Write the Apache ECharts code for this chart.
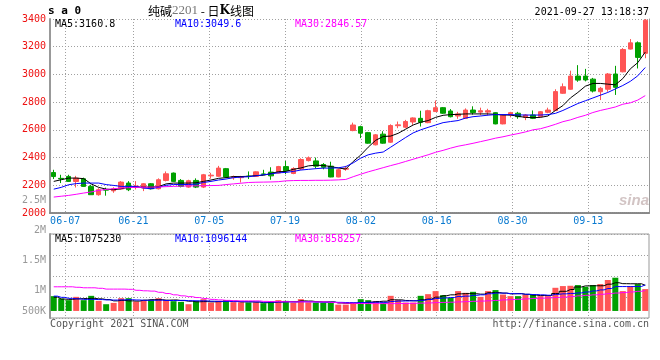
<!DOCTYPE html>
<html><head><meta charset="utf-8">
<script src="https://cdn.jsdelivr.net/npm/echarts@6/dist/echarts.min.js"></script>
<style>html,body{margin:0;padding:0;background:#fff}#c{width:660px;height:360px}</style>
</head><body><div id="c"></div>
<script>
// ---------------- data ----------------
const dates = ['06-03','06-04','06-07','06-08','06-09','06-10','06-11','06-15','06-16','06-17',
'06-18','06-21','06-22','06-23','06-24','06-25','06-28','06-29','06-30','07-01',
'07-02','07-05','07-06','07-07','07-08','07-09','07-12','07-13','07-14','07-15',
'07-16','07-19','07-20','07-21','07-22','07-23','07-26','07-27','07-28','07-29',
'07-30','08-02','08-03','08-04','08-05','08-06','08-09','08-10','08-11','08-12',
'08-13','08-16','08-17','08-18','08-19','08-20','08-23','08-24','08-25','08-26',
'08-27','08-30','08-31','09-01','09-02','09-03','09-06','09-07','09-08','09-09',
'09-10','09-13','09-14','09-15','09-16','09-17','09-22','09-23','09-24','09-27'];
const labeledDates = ['06-07','06-21','07-05','07-19','08-02','08-16','08-30','09-13'];

const openP = [2292,2250,2264,2227,2247,2192,2132,2170,2160,2173,
2216,2190,2180,2211,2175,2235,2288,2235,2187,2235,
2187,2268,2265,2320,2255,2255,2266,2264,2282,2295,
2288,2335,2285,2318,2378,2376,2350,2338,2260,2316,
2595,2623,2580,2492,2569,2511,2630,2619,2657,2683,
2652,2732,2760,2736,2700,2683,2743,2728,2728,2724,
2643,2707,2720,2690,2707,2695,2727,2739,2864,2893,
2988,2988,2966,2875,2893,3003,3019,3183,3228,3152];
const closeP = [2263,2246,2228,2252,2192,2132,2168,2165,2175,2223,
2168,2195,2211,2175,2240,2283,2228,2192,2233,2187,
2276,2273,2324,2260,2262,2262,2263,2297,2279,2268,
2335,2305,2321,2386,2398,2338,2330,2260,2312,2322,
2635,2576,2504,2564,2504,2631,2636,2660,2686,2655,
2738,2760,2720,2695,2715,2743,2725,2738,2738,2643,
2706,2724,2695,2707,2683,2731,2743,2876,2911,2988,
2959,2960,2880,2900,3003,2907,3180,3228,3123,3391];
const lowP = [2245,2216,2225,2184,2190,2130,2125,2125,2146,2170,
2158,2170,2158,2170,2170,2228,2225,2185,2182,2180,
2180,2248,2262,2255,2240,2220,2245,2260,2276,2240,
2285,2280,2280,2310,2372,2320,2315,2258,2258,2305,
2590,2540,2500,2488,2500,2505,2612,2612,2636,2624,
2648,2730,2715,2690,2680,2680,2710,2705,2705,2640,
2640,2690,2680,2670,2678,2690,2720,2736,2860,2890,
2947,2950,2870,2815,2875,2852,3015,3180,3043,3117];
const highP = [2312,2276,2276,2268,2255,2204,2179,2183,2186,2230,
2230,2230,2216,2216,2250,2300,2292,2245,2240,2250,
2282,2290,2340,2325,2270,2268,2300,2300,2312,2330,
2340,2375,2330,2395,2408,2400,2360,2370,2320,2340,
2652,2630,2585,2570,2590,2640,2660,2672,2690,2738,
2745,2812,2765,2750,2730,2755,2770,2760,2752,2728,
2712,2730,2730,2714,2740,2736,2760,2893,2935,3027,
3067,3040,2975,2910,3010,3062,3190,3255,3238,3400];

const ma5 = [2228,2240,2252,2252,2248,2210,2185,2172,2168,2175,
2185,2187,2187,2187,2190,2210,2216,2216,2216,2218,
2228,2238,2250,2255,2263,2263,2265,2270,2272,2285,
2298,2300,2315,2325,2340,2345,2343,2335,2325,2317,
2372,2418,2475,2525,2552,2555,2575,2605,2635,2655,
2667,2690,2705,2710,2712,2715,2715,2715,2715,2712,
2707,2707,2698,2690,2688,2690,2700,2740,2775,2830,
2870,2915,2935,2935,2930,2925,2970,3040,3085,3161];
const ma10 = [2172,2185,2204,2212,2216,2216,2216,2205,2199,2192,
2192,2192,2180,2175,2185,2200,2206,2206,2206,2208,
2220,2228,2238,2245,2255,2259,2262,2268,2276,2282,
2290,2293,2300,2310,2315,2320,2324,2324,2326,2335,
2362,2396,2420,2432,2440,2475,2510,2545,2578,2600,
2618,2635,2652,2660,2667,2685,2695,2700,2706,2710,
2710,2710,2708,2707,2707,2707,2710,2719,2740,2765,
2790,2810,2830,2850,2870,2895,2920,2950,2990,3050];
const ma30 = [2115,2121,2127,2135,2144,2152,2163,2170,2175,2180,
2183,2185,2186,2187,2188,2190,2192,2194,2195,2196,
2197,2198,2199,2205,2210,2215,2220,2222,2223,2224,
2226,2232,2234,2235,2235,2236,2236,2237,2239,2242,
2262,2280,2297,2312,2327,2342,2356,2372,2388,2404,
2420,2438,2452,2468,2482,2492,2503,2515,2527,2540,
2550,2562,2573,2585,2600,2608,2623,2640,2659,2672,
2690,2705,2725,2740,2752,2765,2785,2795,2815,2847];

// volume, thousand lots
const volK = [622,520,453,592,453,635,423,283,338,537,
537,393,453,453,537,453,410,381,283,410,
495,351,423,453,370,365,355,360,326,410,
453,423,351,495,360,350,345,355,266,266,
351,495,453,410,351,635,453,351,351,635,
706,833,664,550,833,761,804,592,833,876,
689,622,622,689,689,622,622,973,1045,1058,
1087,1015,1087,1129,1299,1396,833,1045,1129,918];
const vma5K = [580,499,486,508,520,529,508,478,423,444,
423,415,453,474,474,453,461,436,410,385,
393,385,393,423,410,381,385,372,347,360,
376,393,393,423,415,393,381,381,334,317,
321,347,368,393,410,470,465,440,427,470,
499,580,639,677,719,728,723,706,766,774,
749,719,728,698,664,647,647,732,825,901,
1007,1053,1058,1058,1125,1184,1146,1142,1142,1075];
const vma10K = [622,571,529,508,486,486,478,465,457,465,
474,461,448,448,453,440,436,444,431,427,
423,410,402,402,393,393,385,381,368,372,
376,381,376,389,385,372,368,368,360,355,
347,355,364,364,360,398,415,419,427,444,
482,525,546,563,609,622,656,677,723,749,
749,728,723,702,689,677,660,698,719,736,
757,795,842,884,943,1024,1024,1024,1028,1096];
const vma30K = [1015,1015,1015,994,973,973,952,918,918,918,
909,867,846,833,783,732,677,635,601,563,
520,486,465,444,431,423,423,423,402,393,
389,385,381,381,381,381,381,360,338,326,
317,313,309,309,309,309,313,317,321,330,
338,351,360,368,381,393,406,415,427,444,
465,478,491,508,525,537,550,567,584,605,
635,656,677,702,728,753,774,799,825,858];

const volTickLabels = ['2.5M','2M','1.5M','1M','500K'];
const priceLegend = ['MA5:3160.8','MA10:3049.6','MA30:2846.57'];
const volLegend = ['MA5:1075230','MA10:1096144','MA30:858257'];
const titleCode = '2201';
const stamp = '2021-09-27 13:18:37';

// ---------------- layout / style ----------------
const RED = '#ff5555', GREEN = '#00a000';
const MA_COLORS = ['#000000', '#0000ff', '#ff00ff'];
const MONO = '"DejaVu Sans Mono", monospace';
const DOT = {color: '#a0a0a0', type: [1, 2], width: 1};
const volLabelY = [200, 230, 260, 290, 311];
const legendX = [55, 175, 295];
const isLabeled = (i, v) => labeledDates.indexOf(v) >= 0;

function txt(x, y, text, fill, align, font) {
  return {type: 'text', x: x, y: y, z: 100, silent: true,
    style: {text: text, fill: fill, font: font || ('10px ' + MONO),
      align: align || 'left', verticalAlign: 'middle',
      textAlign: align || 'left', textVerticalAlign: 'middle'}};
}

const graphics = [];
graphics.push(txt(48, 11, 's a 0', '#000', 'left', 'bold 11px ' + MONO));
graphics.push({type: 'text', x: 201, y: 11, z: 100, silent: true, style: {
  text: '{a|纯碱}{b|' + titleCode + '}{a| - 日}{k|K}{a|线图}',
  align: 'center', verticalAlign: 'middle', textAlign: 'center', textVerticalAlign: 'middle',
  rich: {
    a: {fontFamily: '"Noto Sans CJK SC"', fontSize: 12, fill: '#000', color: '#000'},
    b: {fontFamily: '"Liberation Serif"', fontSize: 13, fill: '#777', color: '#777'},
    k: {fontFamily: '"DejaVu Serif"', fontWeight: 'bold', fontSize: 12, fill: '#000', color: '#000'}
  }}});
graphics.push(txt(649, 12, stamp, '#000', 'right'));
priceLegend.forEach((t, k) => graphics.push(txt(legendX[k], 24, t, MA_COLORS[k])));
volLegend.forEach((t, k) => graphics.push(txt(legendX[k], 239, t, MA_COLORS[k])));
volTickLabels.forEach((t, k) => graphics.push(txt(46, volLabelY[k], t, '#999999', 'right')));
graphics.push(txt(50, 324, 'Copyright 2021 SINA.COM', '#555', 'left'));
graphics.push(txt(649, 324, 'http://finance.sina.com.cn', '#555', 'right'));
graphics.push(txt(634, 201, 'sina', 'rgba(205,190,190,0.9)', 'center', 'italic bold 15px "Liberation Sans"'));

const candleData = dates.map((d, i) => [openP[i], closeP[i], lowP[i], highP[i]]);
const volData = volK.map((v, i) => ({value: v, itemStyle: {color: closeP[i] >= openP[i] ? RED : GREEN}}));

const chart = echarts.init(document.getElementById('c'), null, {renderer: 'canvas'});
chart.setOption({
  animation: false,
  backgroundColor: '#fff',
  textStyle: {fontFamily: MONO},
  grid: [
    {left: 50, top: 19, width: 599, height: 194},
    {left: 50, top: 234, width: 599, height: 84, show: true, borderColor: '#999', borderWidth: 1}
  ],
  xAxis: [
    {gridIndex: 0, type: 'category', data: dates, boundaryGap: true, position: 'top',
      axisLine: {show: true, lineStyle: {color: '#999'}}, axisTick: {show: false},
      axisLabel: {show: false}, splitLine: {show: false}},
    {gridIndex: 0, type: 'category', data: dates, boundaryGap: false, position: 'bottom',
      axisLine: {show: true, lineStyle: {color: '#888', type: [1, 1], width: 2}}, axisTick: {show: false},
      axisLabel: {interval: isLabeled, color: '#0a7ad0', fontFamily: MONO, fontSize: 10, margin: 3},
      splitLine: {show: true, interval: isLabeled, lineStyle: DOT}},
    {gridIndex: 1, type: 'category', data: dates, boundaryGap: true, position: 'top', show: false},
    {gridIndex: 1, type: 'category', data: dates, boundaryGap: false, position: 'bottom',
      axisLine: {show: false}, axisTick: {show: false}, axisLabel: {show: false},
      splitLine: {show: true, interval: isLabeled, lineStyle: DOT}}
  ],
  yAxis: [
    {gridIndex: 0, type: 'value', min: 2000, max: 3400, interval: 200, position: 'left',
      axisLine: {show: true, lineStyle: {color: '#999', width: 2}}, axisTick: {show: false},
      axisLabel: {color: '#ee1111', fontFamily: MONO, fontSize: 10, margin: 4, padding: [0, 0, 4, 0],
        formatter: v => String(v)},
      splitLine: {show: true, lineStyle: DOT}},
    {gridIndex: 0, type: 'value', min: 0, max: 1, position: 'right',
      axisLine: {show: true, lineStyle: {color: '#999'}}, axisTick: {show: false},
      axisLabel: {show: false}, splitLine: {show: false}},
    {gridIndex: 1, type: 'value', min: -296, max: 3232, position: 'right', show: false},
    {gridIndex: 1, type: 'value', min: 0, max: 4, interval: 1, position: 'left',
      axisLine: {show: true, lineStyle: {color: '#999', width: 2}}, axisTick: {show: false},
      axisLabel: {show: false}, splitLine: {show: true, lineStyle: DOT}}
  ],
  series: [
    {type: 'candlestick', xAxisIndex: 0, yAxisIndex: 0, data: candleData, barWidth: 5,
      itemStyle: {color: RED, color0: GREEN, borderColor: RED, borderColor0: GREEN, borderWidth: 1}},
    {type: 'line', xAxisIndex: 0, yAxisIndex: 0, data: ma5, symbol: 'none', z: 3,
      lineStyle: {color: MA_COLORS[0], width: 1}},
    {type: 'line', xAxisIndex: 0, yAxisIndex: 0, data: ma10, symbol: 'none', z: 3,
      lineStyle: {color: MA_COLORS[1], width: 1}},
    {type: 'line', xAxisIndex: 0, yAxisIndex: 0, data: ma30, symbol: 'none', z: 3,
      lineStyle: {color: MA_COLORS[2], width: 1}},
    {type: 'bar', xAxisIndex: 2, yAxisIndex: 2, data: volData, barWidth: 6},
    {type: 'line', xAxisIndex: 2, yAxisIndex: 2, data: vma5K, symbol: 'none', step: 'middle', z: 3,
      lineStyle: {color: MA_COLORS[0], width: 1}},
    {type: 'line', xAxisIndex: 2, yAxisIndex: 2, data: vma10K, symbol: 'none', step: 'middle', z: 3,
      lineStyle: {color: MA_COLORS[1], width: 1}},
    {type: 'line', xAxisIndex: 2, yAxisIndex: 2, data: vma30K, symbol: 'none', step: 'middle', z: 3,
      lineStyle: {color: MA_COLORS[2], width: 1}}
  ],
  graphic: graphics
});
</script>
</body></html>
